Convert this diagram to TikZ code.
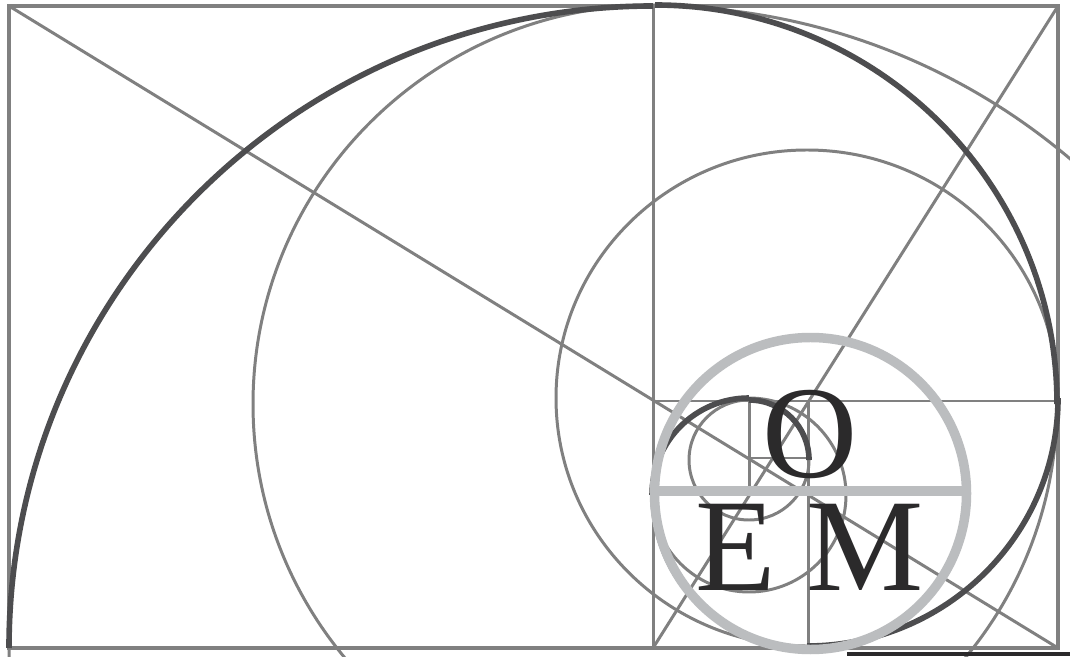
\documentclass[tikz,border=0pt]{standalone}
\usepackage{fontspec}
\setmainfont{Liberation Serif}
\definecolor{guidegray}{RGB}{128,128,128}
\definecolor{spiraldark}{RGB}{77,77,79}
\definecolor{ringgray}{RGB}{187,189,191}
\definecolor{inkdark}{RGB}{43,42,43}
\begin{document}
\begin{tikzpicture}[x=0.02cm,y=0.02cm,line cap=butt,
    frameline/.style={guidegray,line width=2.6pt},
    guideline/.style={guidegray,line width=1.7pt},
    spiralline/.style={spiraldark,line width=3.2pt},
    ringline/.style={ringgray,line width=5.4pt},
    bigletter/.style={inkdark,inner sep=0pt,anchor=base,font=\fontsize{75}{75}\selectfont}]
  \useasboundingbox (0,0) rectangle (1070,656);
  \clip (0,0) rectangle (1070,656);
  \fill[white] (0,0) rectangle (1070,656);
  \coordinate (sw) at (9,8);
  \coordinate (se) at (1058,8);
  \coordinate (ne) at (1058,650);
  \coordinate (nw) at (9,650);
  \coordinate (top) at (653,650);
  \coordinate (foot) at (653,8);
  \coordinate (midl) at (653,255);
  \coordinate (midr) at (1058,255);
  \coordinate (midc) at (808,255);
  \coordinate (footc) at (808,8);
  \coordinate (midb) at (749,255);
  \coordinate (lowb) at (749,162);
  \coordinate (lowl) at (749,198);
  \coordinate (lowr) at (808,198);
  % guide lines
  \draw[frameline] (sw) -- (se) -- (ne) -- (nw) -- cycle;
  \draw[guideline] (top) -- (foot);
  \draw[guideline] (midl) -- (midr);
  \draw[guideline] (midc) -- (footc);
  \draw[guideline] (midb) -- (lowb);
  \draw[guideline] (lowl) -- (lowr);
  \draw[guideline] (nw) -- (se);
  \draw[guideline] (ne) -- (foot);
  % thin circles
  \foreach \cx/\cy/\rx/\ry in {653/8/644/642,655/252/402/399,807/258/251/248,749/161/97/97,749/196/60/60}
    \draw[guideline] (\cx,\cy) ellipse[x radius=\rx,y radius=\ry];
  % spiral, one quarter per square
  \foreach \cx/\cy/\rx/\ry/\a in {653/8/644/642/180,655/252/402/399/90,807/258/251/248/0,808/162/155/155/-90,749/161/97/97/-180,749/196/60/60/-270}
    \draw[spiralline] ({\cx+\rx*cos(\a)},{\cy+\ry*sin(\a)}) arc[start angle=\a,delta angle=-90,x radius=\rx,y radius=\ry];
  \fill[inkdark] (847,0) rectangle (1070,4.5);
  % emblem
  \draw[ringline] (810.5,162.5) circle[radius=156];
  \draw[ringline] (655,165) -- (966,165);
  \node[bigletter] (lettero) at (810,179) {O};
  \node[bigletter] (lettere) at (736,66) {E};
  \node[bigletter] (letterm) at (865,66) {M};
\end{tikzpicture}
\end{document}
